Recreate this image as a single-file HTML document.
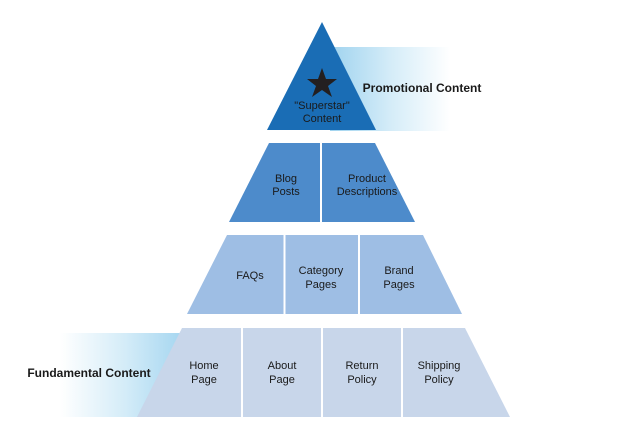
<!DOCTYPE html>
<html><head><meta charset="utf-8"><style>
html,body{margin:0;padding:0;background:#fff;}
svg{display:block;}
text{font-family:"Liberation Sans",sans-serif;font-size:11px;fill:#1a1a1a;text-anchor:middle;}
.b{font-weight:bold;font-size:12px;}
</style></head><body>
<svg width="640" height="444" viewBox="0 0 640 444" xmlns="http://www.w3.org/2000/svg">
<defs>
<linearGradient id="gr" x1="0" x2="1" y1="0" y2="0">
<stop offset="0" stop-color="#9fd3ef"/><stop offset="0.5" stop-color="#d4ecf8"/><stop offset="1" stop-color="#ffffff"/>
</linearGradient>
<linearGradient id="gl" x1="1" x2="0" y1="0" y2="0">
<stop offset="0" stop-color="#9fd3ef"/><stop offset="0.5" stop-color="#d4ecf8"/><stop offset="1" stop-color="#ffffff"/>
</linearGradient>
</defs>
<rect x="330" y="47" width="120" height="84" fill="url(#gr)"/>
<rect x="60" y="333" width="130" height="84" fill="url(#gl)"/>
<polygon points="322,22 376,130 267,130" fill="#1a6db5"/>
<polygon points="269,143 375,143 415,222 229,222" fill="#4d8bcb"/>
<line x1="321" y1="143" x2="321" y2="222" stroke="#fff" stroke-width="2"/>
<polygon points="227,235 423,235 462,314 187,314" fill="#9ebee4"/>
<line x1="284.5" y1="235" x2="284.5" y2="314" stroke="#fff" stroke-width="2"/>
<line x1="359" y1="235" x2="359" y2="314" stroke="#fff" stroke-width="2"/>
<polygon points="182,328 465,328 510,417 137,417" fill="#c8d6ea"/>
<line x1="242" y1="328" x2="242" y2="417" stroke="#fff" stroke-width="2"/>
<line x1="322" y1="328" x2="322" y2="417" stroke="#fff" stroke-width="2"/>
<line x1="402" y1="328" x2="402" y2="417" stroke="#fff" stroke-width="2"/>
<polygon points="322,68 326,79 337,79 328,86 332,97 322,90 312,97 316,86 307,79 318,79" fill="#231f20"/>
<text x="322" y="109" font-size="10">"Superstar"</text>
<text x="322" y="122" font-size="10">Content</text>
<text class="b" x="422" y="92">Promotional Content</text>
<text x="286" y="182">Blog</text><text x="286" y="195">Posts</text>
<text x="367" y="182">Product</text><text x="367" y="195">Descriptions</text>
<text x="250" y="279">FAQs</text>
<text x="321" y="274">Category</text><text x="321" y="288">Pages</text>
<text x="399" y="274">Brand</text><text x="399" y="288">Pages</text>
<text class="b" x="89" y="377">Fundamental Content</text>
<text x="204" y="369">Home</text><text x="204" y="383">Page</text>
<text x="282" y="369">About</text><text x="282" y="383">Page</text>
<text x="362" y="369">Return</text><text x="362" y="383">Policy</text>
<text x="439" y="369">Shipping</text><text x="439" y="383">Policy</text>
</svg>
</body></html>
